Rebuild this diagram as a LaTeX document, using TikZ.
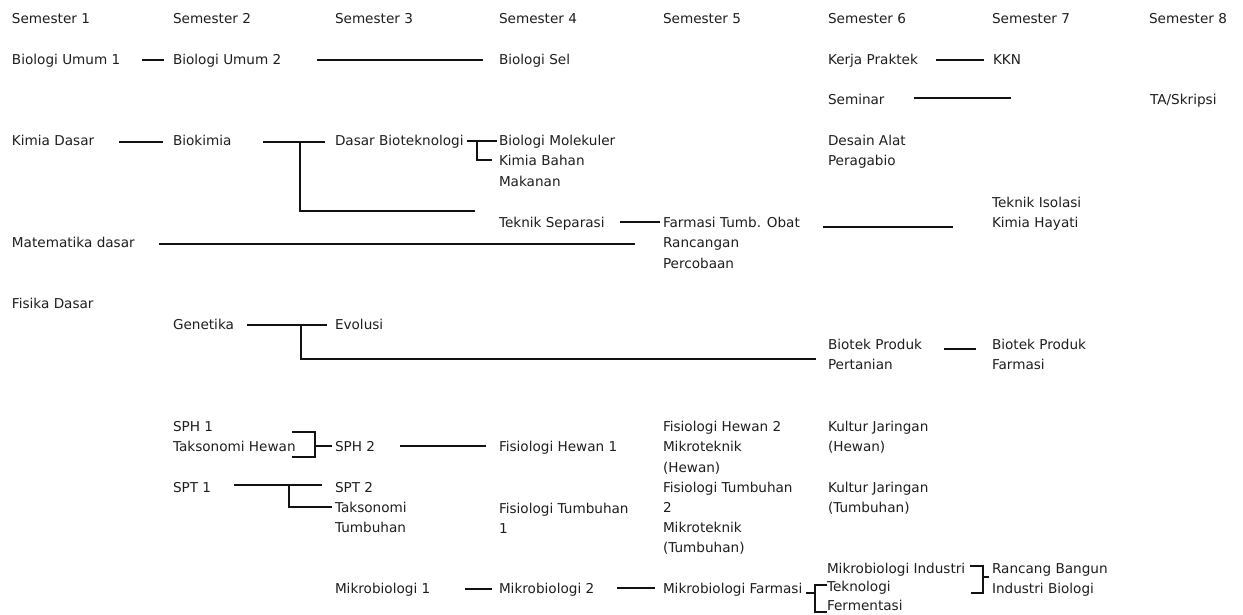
\documentclass[tikz,border=0pt]{standalone}
\usepackage{fontspec}
\setmainfont{DejaVu Sans}
\definecolor{txt}{HTML}{1E1E1E}
\definecolor{ink}{HTML}{121212}
% stacked course names, baseline on the first line
\newcommand{\mlines}[1]{\begin{tabular}[t]{@{}l@{}}#1\end{tabular}}
\begin{document}
\begin{tikzpicture}[x=1pt, y=-1pt,
  lbl/.style={anchor=base west, inner sep=0pt, outer sep=0pt,
    font=\fontsize{13.6}{20.3}\selectfont, text=txt},
  tight/.style={font=\fontsize{13.6}{18.5}\selectfont},
  link/.style={draw=ink, line width=2pt}]
\useasboundingbox (0,0) rectangle (1243,614);

% semester headings
\node[lbl] (s1) at (12,23) {Semester 1};
\node[lbl] (s2) at (173,23) {Semester 2};
\node[lbl] (s3) at (335,23) {Semester 3};
\node[lbl] (s4) at (499,23) {Semester 4};
\node[lbl] (s5) at (663,23) {Semester 5};
\node[lbl] (s6) at (828,23) {Semester 6};
\node[lbl] (s7) at (992,23) {Semester 7};
\node[lbl] (s8) at (1149,23) {Semester 8};

% courses
\node[lbl] (bu1) at (12,64) {Biologi Umum 1};
\node[lbl] (bu2) at (173,64) {Biologi Umum 2};
\node[lbl] (bsel) at (499,64) {Biologi Sel};
\node[lbl] (kp) at (828,64) {Kerja Praktek};
\node[lbl] (kkn) at (993,64) {KKN};
\node[lbl] (sem) at (828,104) {Seminar};
\node[lbl] (ta) at (1150,104) {TA/Skripsi};
\node[lbl] (kd) at (12,145.5) {Kimia Dasar};
\node[lbl] (bk) at (173,145.5) {Biokimia};
\node[lbl] (dbt) at (335,145.5) {Dasar Bioteknologi};
\node[lbl] (bm) at (499,145.5) {\mlines{Biologi Molekuler\\Kimia Bahan\\Makanan}};
\node[lbl] (dap) at (828,145.5) {\mlines{Desain Alat\\Peragabio}};
\node[lbl] (ts) at (499,227.5) {Teknik Separasi};
\node[lbl] (fto) at (663,227.5) {\mlines{Farmasi Tumb. Obat\\Rancangan\\Percobaan}};
\node[lbl] (tik) at (992,207) {\mlines{Teknik Isolasi\\Kimia Hayati}};
\node[lbl] (md) at (12,247) {Matematika dasar};
\node[lbl] (fd) at (12,308) {Fisika Dasar};
\node[lbl] (gen) at (173,329) {Genetika};
\node[lbl] (evo) at (335,329) {Evolusi};
\node[lbl] (bpp) at (828,349) {\mlines{Biotek Produk\\Pertanian}};
\node[lbl] (bpf) at (992,349) {\mlines{Biotek Produk\\Farmasi}};
\node[lbl] (sph1) at (173,431.5) {\mlines{SPH 1\\Taksonomi Hewan}};
\node[lbl] (sph2) at (335,451.5) {SPH 2};
\node[lbl] (fh1) at (499,451.5) {Fisiologi Hewan 1};
\node[lbl] (fh2) at (663,431.5) {\mlines{Fisiologi Hewan 2\\Mikroteknik\\(Hewan)}};
\node[lbl] (kjh) at (828,431.5) {\mlines{Kultur Jaringan\\(Hewan)}};
\node[lbl] (spt1) at (173,492) {SPT 1};
\node[lbl] (spt2) at (335,492) {\mlines{SPT 2\\Taksonomi\\Tumbuhan}};
\node[lbl] (ft1) at (499,513) {\mlines{Fisiologi Tumbuhan\\1}};
\node[lbl] (ft2) at (663,492) {\mlines{Fisiologi Tumbuhan\\2\\Mikroteknik\\(Tumbuhan)}};
\node[lbl] (kjt) at (828,492) {\mlines{Kultur Jaringan\\(Tumbuhan)}};
\node[lbl] (mb1) at (335,593) {Mikrobiologi 1};
\node[lbl] (mb2) at (499,593) {Mikrobiologi 2};
\node[lbl] (mbf) at (663,593) {Mikrobiologi Farmasi};
\node[lbl] (mbi) at (827,573) {Mikrobiologi Industri};
\node[lbl, tight] (tf) at (827,591.5) {\mlines{Teknologi\\Fermentasi}};
\node[lbl] (rbib) at (992,573) {\mlines{Rancang Bangun\\Industri Biologi}};

% prerequisite links
\draw[link] ([shift={(130,-4)}]bu1.base west) -- ([shift={(-9,-4)}]bu2.base west);
\draw[link] ([shift={(144,-4)}]bu2.base west) -- ([shift={(-16,-4)}]bsel.base west);
\draw[link] ([shift={(108,-4)}]kp.base west) -- ([shift={(-9,-4)}]kkn.base west);
\draw[link] ([shift={(86,-6)}]sem.base west) -- ([shift={(-139,-6)}]ta.base west);
\draw[link] ([shift={(107,-3.5)}]kd.base west) -- ([shift={(-10,-3.5)}]bk.base west);
\draw[link] ([shift={(90,-3.5)}]bk.base west) -- ([shift={(-10,-3.5)}]dbt.base west);
\draw[link] ([shift={(127,-3.5)}]bk.base west) |- ([shift={(-24,-16.5)}]ts.base west);
\draw[link] ([shift={(132,-4.5)}]dbt.base west) -- ([shift={(-2,-4.5)}]bm.base west);
\draw[link] ([shift={(142,-4.5)}]dbt.base west) |- ([shift={(-7,14.5)}]bm.base west);
\draw[link] ([shift={(121,-5.5)}]ts.base west) -- ([shift={(-3,-5.5)}]fto.base west);
\draw[link] ([shift={(147,-3)}]md.base west) -- ([shift={(-28,16.5)}]fto.base west);
\draw[link] ([shift={(160,-0.5)}]fto.base west) -- ([shift={(-39,20)}]tik.base west);
\draw[link] ([shift={(74,-4)}]gen.base west) -- ([shift={(-8,-4)}]evo.base west);
\draw[link] ([shift={(128,-4)}]gen.base west) |- ([shift={(-12,10)}]bpp.base west);
\draw[link] ([shift={(116,0)}]bpp.base west) -- ([shift={(-16,0)}]bpf.base west);
\draw[link] ([shift={(119,0.5)}]sph1.base west) -- ++(23,0) -- ++(0,25) -- ++(-23,0);
\draw[link] ([shift={(142,14.5)}]sph1.base west) -- ([shift={(-3,-5.5)}]sph2.base west);
\draw[link] ([shift={(65,-5.5)}]sph2.base west) -- ([shift={(-13,-5.5)}]fh1.base west);
\draw[link] ([shift={(61,-7)}]spt1.base west) -- ([shift={(-13,-7)}]spt2.base west);
\draw[link] ([shift={(116,-7)}]spt1.base west) |- ([shift={(-3,15)}]spt2.base west);
\draw[link] ([shift={(130,-4)}]mb1.base west) -- ([shift={(-7,-4)}]mb2.base west);
\draw[link] ([shift={(118,-5)}]mb2.base west) -- ([shift={(-8,-5)}]mbf.base west);
\draw[link] ([shift={(143,0)}]mbf.base west) -- ([shift={(-12,1.5)}]tf.base west);
\draw[link] ([shift={(0,-6.5)}]tf.base west) -- ++(-12,0) -- ++(0,27) -- ++(12,0);
\draw[link] ([shift={(143,-7)}]mbi.base west) -- ++(13,0) -- ++(0,27) -- ++(-12,0);
\draw[link] ([shift={(156,4)}]mbi.base west) -- ([shift={(-3,4)}]rbib.base west);
\end{tikzpicture}
\end{document}
